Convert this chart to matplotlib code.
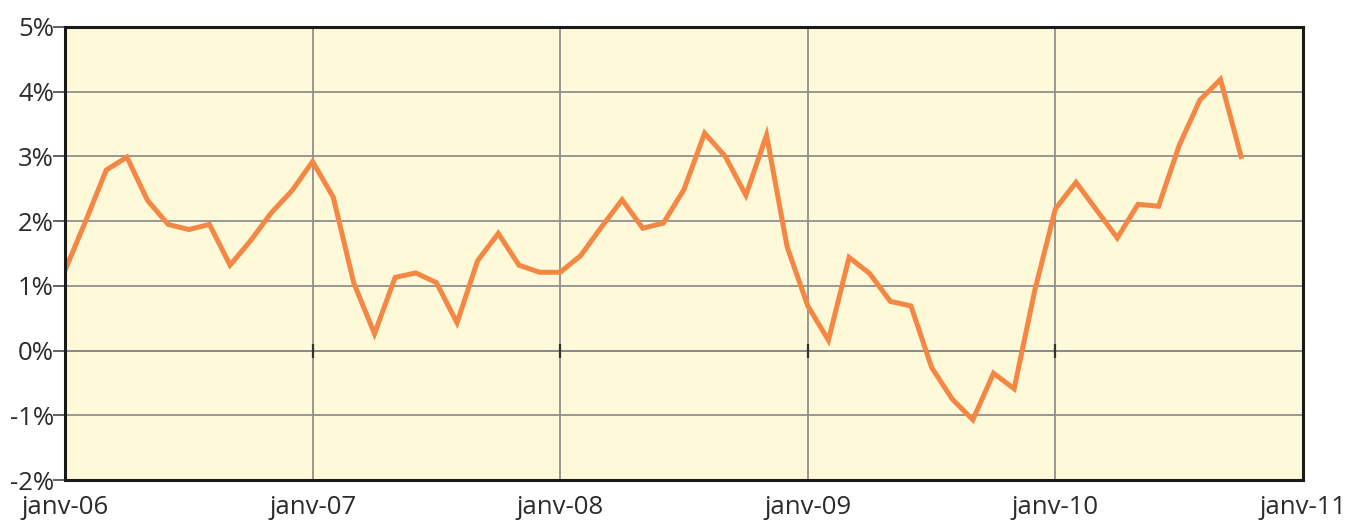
import matplotlib
matplotlib.use("Agg")
import matplotlib.pyplot as plt
import numpy as np

# Monthly values, janv-06 .. oct-10 (%)
values = [1.24, 2.00, 2.79, 2.99, 2.32, 1.95, 1.87, 1.95, 1.32, 1.70, 2.13, 2.47,
          2.92, 2.37, 1.04, 0.26, 1.13, 1.20, 1.05, 0.43, 1.39, 1.81, 1.32, 1.21,
          1.21, 1.47, 1.91, 2.33, 1.89, 1.97, 2.49, 3.36, 3.00, 2.40, 3.33, 1.60,
          0.69, 0.16, 1.44, 1.19, 0.76, 0.69, -0.26, -0.75, -1.07, -0.35, -0.59, 0.93,
          2.19, 2.60, 2.17, 1.74, 2.26, 2.23, 3.17, 3.87, 4.19, 3.00]
x_labels = ["janv-06", "janv-07", "janv-08", "janv-09", "janv-10", "janv-11"]
y_ticks = [-2, -1, 0, 1, 2, 3, 4, 5]
y_labels = ["-2%", "-1%", "0%", "1%", "2%", "3%", "4%", "5%"]

plt.rcParams['font.family'] = ['Open Sans', 'DejaVu Sans']

fig = plt.figure(figsize=(13.49, 5.24), dpi=100)
ax = fig.add_axes([65/1349, 1-480/524, (1303-65)/1349, (480-27)/524])
ax.set_facecolor("#FEF9D8")

months = np.arange(len(values))
xt = np.arange(0, 12*len(x_labels), 12)

ax.set_xlim(0, 60)
ax.set_ylim(-2, 5)
ax.set_xticks(xt)
ax.set_xticklabels(x_labels)
ax.set_yticks(y_ticks)
ax.set_yticklabels(y_labels)

ax.grid(True, color="#8f8f8f", linewidth=1.3, zorder=1)
ax.axhline(0, color="#555555", linewidth=1.3, zorder=1)
ax.plot(xt[1:-1], np.zeros(len(xt)-2), linestyle="none", marker="|",
        markersize=10, markeredgewidth=1.6, color="#333333", zorder=2)

ax.plot(months, values, color="#F58744", linewidth=3.6, zorder=3,
        solid_joinstyle="miter")

for s in ax.spines.values():
    s.set_color("#1a1a1a")
    s.set_linewidth(2.2)
    s.set_zorder(4)

ax.tick_params(axis="y", direction="out", length=9, width=1.3, color="#555555",
               labelsize=18.5, labelcolor="#2b2b2b", pad=-1)
ax.tick_params(axis="x", length=0, labelsize=18.5, labelcolor="#2b2b2b", pad=11)

fig.savefig("out.png", dpi=100, facecolor="white")
